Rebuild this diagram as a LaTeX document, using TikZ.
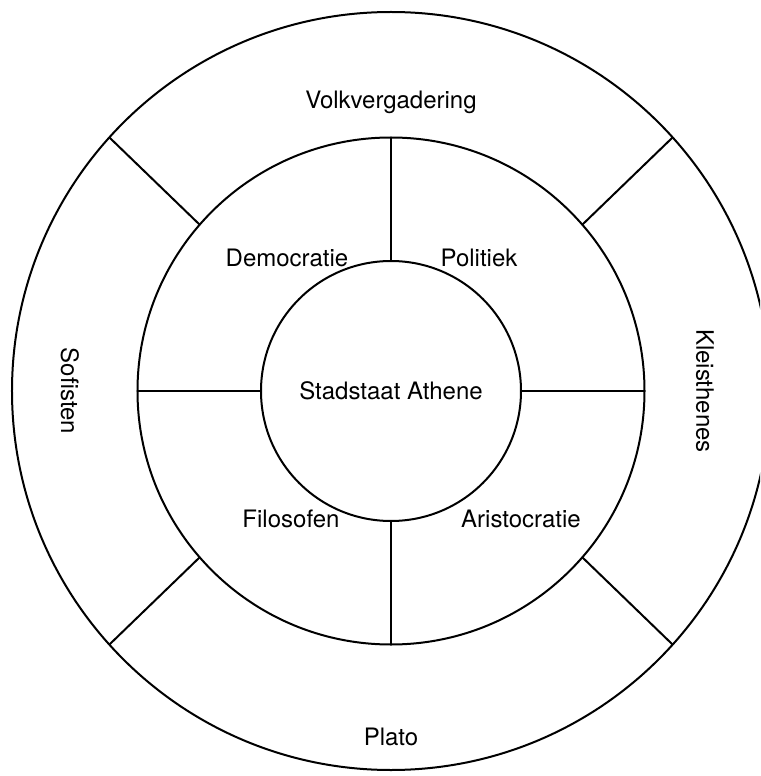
\documentclass[tikz,border=0pt]{standalone}
\usepackage{fontspec}
\setmainfont{TeX Gyre Heros}
\usetikzlibrary{positioning}
\tikzset{font=\fontsize{12}{14}\selectfont}
\tikzset{ring/.style={draw,circle,inner sep=0pt,outer sep=0pt}}
\tikzset{lbl/.style={inner sep=1pt}}

\begin{document}
\begin{tikzpicture}[x=.5pt,y=.5pt,line width=1pt]
  \useasboundingbox (-391,-385) rectangle (369,391);
  \clip (-391,-385) rectangle (369,391);
  \node[ring,minimum size=379pt] (outer) at (0,0) {};
  \node[ring,minimum size=253.5pt] (middle) at (0,0) {};
  \node[ring,minimum size=130pt] (core) at (0,0) {Stadstaat Athene};
  % spokes of the middle ring
  \foreach \a in {0,90,180,270}
    \draw (core.\a) -- (middle.\a);
  % spokes of the outer ring
  \draw (middle.139) -- (outer.138);
  \draw (middle.41) -- (outer.42);
  \draw (middle.221) -- (outer.222);
  \draw (middle.319) -- (outer.318);
  % middle ring
  \node[lbl] (democ) at (-104,133) {Democratie};
  \node[lbl] (polit) at (88,133) {Politiek};
  \node[lbl] (filos) at (-100,-128) {Filosofen};
  \node[lbl] (arist) at (130,-128) {Aristocratie};
  % outer ring
  \node[lbl] (volk) at (0,289) {Volkvergadering};
  \node[lbl] (plato) at (0,-346) {Plato};
  \node[lbl,rotate=-90] (sofist) at (-321,0) {Sofisten};
  \node[lbl,rotate=-90] (kleis) at (314,0) {Kleisthenes};
\end{tikzpicture}
\end{document}
